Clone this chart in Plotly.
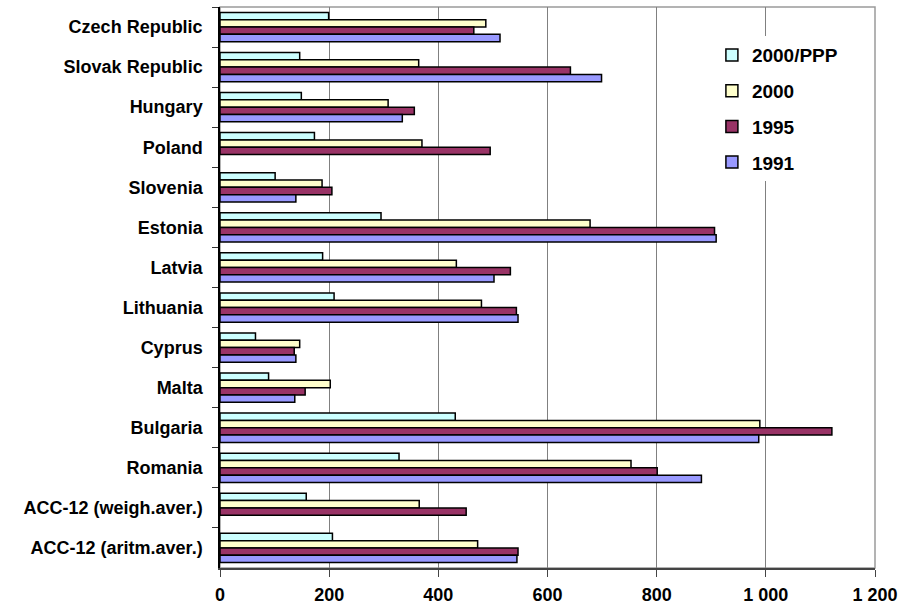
import plotly.graph_objects as go

# Categories (top to bottom)
countries = [
    "Czech Republic", "Slovak Republic", "Hungary", "Poland", "Slovenia",
    "Estonia", "Latvia", "Lithuania", "Cyprus", "Malta", "Bulgaria",
    "Romania", "ACC-12 (weigh.aver.)", "ACC-12 (aritm.aver.)",
]

# Series values
v_2000_ppp = [199, 146, 149, 173, 101, 295, 188, 209, 65, 89, 431, 328, 158, 206]
v_2000 = [487, 364, 308, 370, 187, 678, 433, 479, 146, 202, 989, 753, 365, 472]
v_1995 = [465, 642, 356, 495, 205, 906, 532, 543, 136, 156, 1121, 801, 451, 546]
v_1991 = [513, 699, 334, None, 139, 909, 502, 546, 139, 137, 987, 882, None, 544]

series = [
    ("2000/PPP", v_2000_ppp, "#CCFFFF"),
    ("2000", v_2000, "#FFFFCC"),
    ("1995", v_1995, "#993366"),
    ("1991", v_1991, "#9999FF"),
]

# X-axis ticks
x_tickvals = [0, 200, 400, 600, 800, 1000, 1200]
x_ticktext = ["0", "200", "400", "600", "800", "1 000", "1 200"]

FONT = "Liberation Sans, Arial, sans-serif"

fig = go.Figure()
for name, vals, color in series:
    fig.add_trace(go.Bar(
        y=countries, x=vals, name=name, orientation="h",
        legendgroup=name,
        marker=dict(color=color, line=dict(color="black", width=1.5)),
    ))

fig.update_layout(
    width=904, height=611,
    margin=dict(l=220, r=29, t=7, b=43),
    paper_bgcolor="white", plot_bgcolor="white",
    barmode="group", bargap=0.27, bargroupgap=0,
    font=dict(family=FONT, size=18, color="black"),
    showlegend=True,
    legend=dict(
        x=0.751, y=0.948, xanchor="left", yanchor="top",
        bgcolor="white", borderwidth=0,
        traceorder="grouped", tracegroupgap=8,
        font=dict(family=FONT, size=19, color="black", weight="bold"),
    ),
    shapes=[dict(
        type="rect", xref="paper", yref="paper", x0=0, y0=0, x1=1, y1=1,
        line=dict(color="#9a9a9a", width=1.5), layer="below",
    )],
)

fig.update_xaxes(
    range=[0, 1200], tickvals=x_tickvals, ticktext=x_ticktext,
    showgrid=True, gridcolor="#808080", gridwidth=1,
    showline=True, linecolor="#444444", linewidth=1.5,
    ticks="outside", ticklen=7, tickcolor="#444444", tickwidth=1,
    tickfont=dict(family=FONT, size=18, color="black", weight="bold"),
    ticklabelstandoff=3, zeroline=False, automargin=False,
)
fig.update_yaxes(
    type="category", categoryorder="array", categoryarray=countries,
    autorange="reversed", showgrid=False,
    showline=True, linecolor="black", linewidth=1.5,
    ticks="outside", ticklen=6, tickcolor="#333333", tickwidth=1,
    tickson="boundaries",
    tickfont=dict(family=FONT, size=18, color="black", weight="bold"),
    ticklabelstandoff=12, automargin=False,
)

fig.write_html("out.html")
